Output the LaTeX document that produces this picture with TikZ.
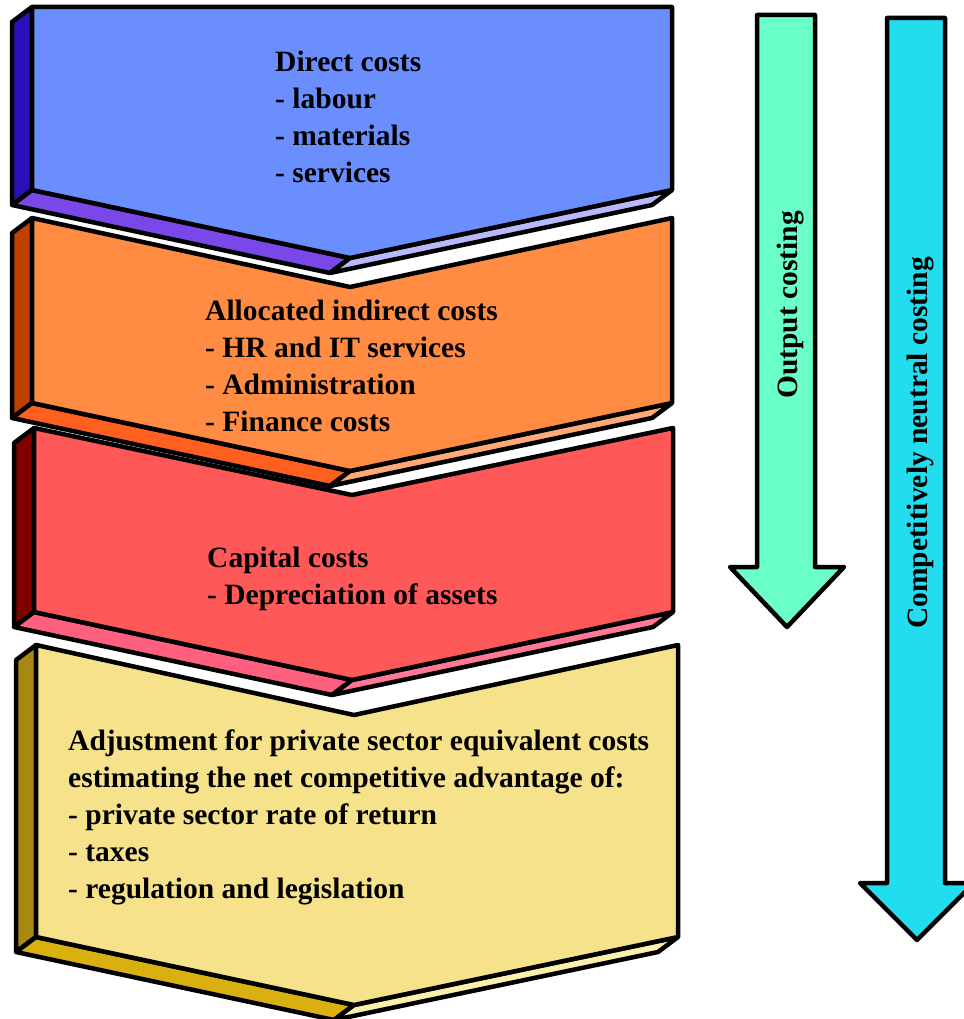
\documentclass[tikz,border=0pt]{standalone}
\usepackage{fontspec}
\setmainfont{Liberation Serif}
\definecolor{bfront}{RGB}{107,142,255}
\definecolor{bside}{RGB}{42,16,184}
\definecolor{bbl}{RGB}{122,72,232}
\definecolor{bbr}{RGB}{184,184,250}
\definecolor{ofront}{RGB}{255,140,66}
\definecolor{oside}{RGB}{192,64,0}
\definecolor{obl}{RGB}{255,96,32}
\definecolor{obr}{RGB}{255,168,120}
\definecolor{rfront}{RGB}{255,88,88}
\definecolor{rside}{RGB}{128,0,0}
\definecolor{rbl}{RGB}{255,96,128}
\definecolor{rbr}{RGB}{255,120,150}
\definecolor{yfront}{RGB}{246,226,138}
\definecolor{yside}{RGB}{168,136,16}
\definecolor{ybl}{RGB}{216,176,16}
\definecolor{ybr}{RGB}{250,240,170}
\definecolor{greenarrow}{RGB}{106,255,200}
\definecolor{cyanarrow}{RGB}{34,221,238}
\newcommand{\mychevron}[6]{%
  % #1 xl, #2 xr, #3 ytop, #4 ybot, #5 notch depth, #6 colour prefix
  \draw[face,fill=#6side] ({#1-20},{#3+15}) -- (#1,#3) -- (#1,#4) -- ({#1-20},{#4+15}) -- cycle;
  \draw[face,fill=#6bl] ({#1-20},{#4+15}) -- (#1,#4) -- ({#1+318},{#4+68}) -- ({#1+298},{#4+83}) -- cycle;
  \draw[face,fill=#6br] ({#1+298},{#4+83}) -- ({#1+318},{#4+68}) -- (#2,#4) -- ({#2-20},{#4+15}) -- cycle;
  \draw[face,fill=#6front] (#1,#3) -- ({#1+318},{#3+#5}) -- (#2,#3) -- (#2,#4) -- ({#1+318},{#4+68}) -- (#1,#4) -- cycle;
}
\begin{document}
\begin{tikzpicture}[x=1pt,y=-1pt,
  face/.style={draw=black,line width=4.5pt,line join=round},
  arrowshape/.style={draw=black,line width=4.5pt,line join=round},
  label/.style={font=\fontsize{29.5}{36.8}\selectfont\bfseries,align=left,inner sep=0pt,anchor=north west},
  vlabel/.style={font=\fontsize{29.5}{34}\selectfont\bfseries,inner sep=0pt,rotate=90}]
\useasboundingbox (0,0) rectangle (963,1019);
\mychevron{32}{672}{7}{190}{0}{b}
\mychevron{32}{672}{218}{403}{69}{o}
\mychevron{34}{673}{428}{612}{67}{r}
\mychevron{36}{678}{645}{937}{70}{y}
\node[label] (direct) at (275,51) {Direct costs\\- labour\\- materials\\- services};
\node[label] (indirect) at (205,300) {Allocated indirect costs\\- HR and IT services\\- Administration\\- Finance costs};
\node[label] (capital) at (207,547) {Capital costs\\- Depreciation of assets};
\node[label] (adjust) at (68,730) {Adjustment for private sector equivalent costs\\estimating the net competitive advantage of:\\- private sector rate of return\\- taxes\\- regulation and legislation};
\draw[arrowshape,fill=greenarrow] (757,15) -- (815,15) -- (815,567) -- (844,567) -- (787,627) -- (730,567) -- (757,567) -- cycle;
\draw[arrowshape,fill=cyanarrow] (887,18) -- (945,18) -- (945,883) -- (974,883) -- (917,940) -- (860,883) -- (887,883) -- cycle;
\node[vlabel] (output) at (791,305) {Output costing};
\node[vlabel] (neutral) at (921,443) {Competitively neutral costing};
\end{tikzpicture}
\end{document}
